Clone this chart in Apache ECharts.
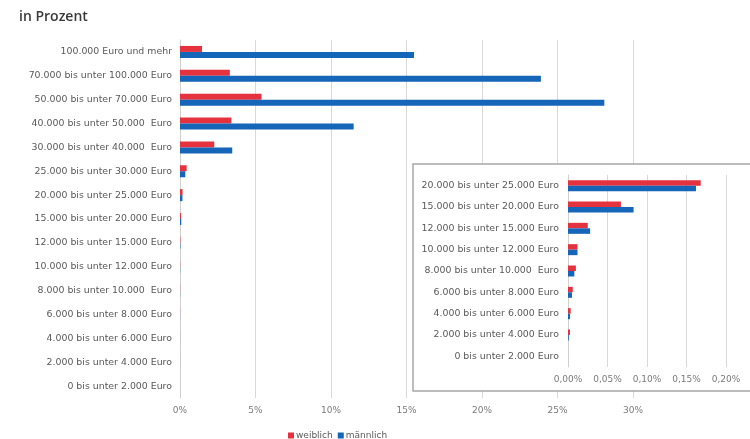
<!DOCTYPE html>
<html>
<head>
<meta charset="utf-8">
<script src="https://cdn.jsdelivr.net/npm/echarts@6/dist/echarts.min.js"></script>
<style>
html,body{margin:0;padding:0;background:#fff;}
#c{width:750px;height:439px;}
</style>
</head>
<body>
<div id="c"></div>
<script>
var categories = ['100.000 Euro und mehr','70.000 bis unter 100.000 Euro','50.000 bis unter 70.000 Euro','40.000 bis unter 50.000  Euro','30.000 bis unter 40.000  Euro','25.000 bis unter 30.000 Euro','20.000 bis unter 25.000 Euro','15.000 bis unter 20.000 Euro','12.000 bis unter 15.000 Euro','10.000 bis unter 12.000 Euro','8.000 bis unter 10.000  Euro','6.000 bis unter 8.000 Euro','4.000 bis unter 6.000 Euro','2.000 bis unter 4.000 Euro','0 bis unter 2.000 Euro'];
var weiblich = [1.46, 3.3, 5.4, 3.4, 2.27, 0.44, 0.168, 0.067, 0.025, 0.012, 0.010, 0.006, 0.0034, 0.0025, 0];
var maennlich = [15.5, 23.9, 28.1, 11.5, 3.46, 0.35, 0.162, 0.083, 0.028, 0.012, 0.008, 0.005, 0.0026, 0.001, 0];
var insetStart = 6;
var insetCategories = categories.slice(insetStart);
var insetWeiblich = weiblich.slice(insetStart);
var insetMaennlich = maennlich.slice(insetStart);
var mainTicks = [0, 5, 10, 15, 20, 25, 30];
var insetTicks = [0, 0.05, 0.10, 0.15, 0.20];

var RED = '#e5323f', BLUE = '#1565b8';
var FONT = 'DejaVu Sans';
var chart = echarts.init(document.getElementById('c'));
chart.setOption({
  animation: false,
  textStyle: {fontFamily: FONT},
  title: {text: 'in Prozent', left: 14, top: 5, textStyle: {fontSize: 14, fontWeight: 600, color: '#3a3a3a', fontFamily: 'Open Sans'}},
  legend: {
    data: ['weiblich', 'männlich'], left: 283, top: 426, icon: 'rect', itemWidth: 6, itemHeight: 6, itemGap: 5,
    textStyle: {fontSize: 9, color: '#595959', padding: [0, 0, 0, -3], fontFamily: FONT}
  },
  graphic: [{
    type: 'rect', z: 5, shape: {x: 413, y: 164, width: 345, height: 227},
    style: {fill: '#fff', stroke: '#a6a6a6', lineWidth: 1.5}
  }],
  grid: [
    {left: 180, right: 117, top: 40, bottom: 41},
    {left: 568, right: 24, top: 175, bottom: 72, z: 10}
  ],
  xAxis: [
    {gridIndex: 0, type: 'value', min: mainTicks[0], max: mainTicks[mainTicks.length - 1], interval: 5,
     axisLine: {show: false}, axisTick: {show: false},
     splitLine: {lineStyle: {color: '#d9d9d9'}},
     axisLabel: {fontSize: 9, color: '#7a7a7a', margin: 8, fontFamily: FONT, formatter: function (v) { return v + '%'; }}},
    {gridIndex: 1, type: 'value', min: insetTicks[0], max: insetTicks[insetTicks.length - 1], interval: 0.05, z: 10,
     axisLine: {show: false}, axisTick: {show: false},
     splitLine: {lineStyle: {color: '#d9d9d9'}},
     axisLabel: {fontSize: 9, color: '#7a7a7a', margin: 8, fontFamily: FONT, formatter: function (v) { return v.toFixed(2).replace('.', ',') + '%'; }}}
  ],
  yAxis: [
    {gridIndex: 0, type: 'category', inverse: true, data: categories,
     axisLine: {lineStyle: {color: '#d0d0d0'}}, axisTick: {show: false},
     axisLabel: {fontSize: 9.4, color: '#595959', margin: 8, fontFamily: FONT}},
    {gridIndex: 1, type: 'category', inverse: true, data: insetCategories, z: 10,
     axisLine: {lineStyle: {color: '#d0d0d0'}}, axisTick: {show: false},
     axisLabel: {fontSize: 9.4, color: '#595959', margin: 9, fontFamily: FONT}}
  ],
  series: [
    {name: 'weiblich', type: 'bar', xAxisIndex: 0, yAxisIndex: 0, data: weiblich, barWidth: 6, barGap: '0%', itemStyle: {color: RED}},
    {name: 'männlich', type: 'bar', xAxisIndex: 0, yAxisIndex: 0, data: maennlich, barWidth: 6, barGap: '0%', itemStyle: {color: BLUE}},
    {name: 'weiblich', type: 'bar', xAxisIndex: 1, yAxisIndex: 1, data: insetWeiblich, barWidth: 5.5, barGap: '0%', z: 12, itemStyle: {color: RED}},
    {name: 'männlich', type: 'bar', xAxisIndex: 1, yAxisIndex: 1, data: insetMaennlich, barWidth: 5.5, barGap: '0%', z: 12, itemStyle: {color: BLUE}}
  ]
});
</script>
</body>
</html>
